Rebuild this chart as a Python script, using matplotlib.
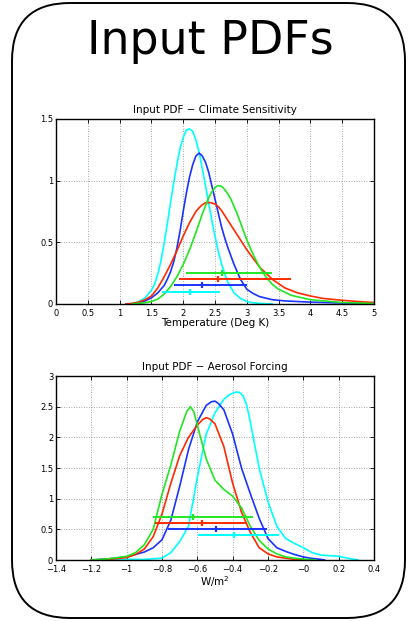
import numpy as np
import matplotlib
matplotlib.use("Agg")
import matplotlib.pyplot as plt
from matplotlib.patches import FancyBboxPatch
from matplotlib.ticker import FuncFormatter

# Climate sensitivity PDFs (x in Deg K, y density)
cs_cyan_x = [1.1, 1.2, 1.3, 1.4, 1.5, 1.55, 1.6, 1.65, 1.7, 1.75, 1.8, 1.85, 1.9, 1.95, 2.0, 2.05, 2.1,
             2.15, 2.2, 2.25, 2.3, 2.35, 2.4, 2.45, 2.5, 2.55, 2.6, 2.65, 2.7, 2.8, 2.9, 3.0, 3.1, 3.2, 3.4]
cs_cyan_y = [0.0, 0.005, 0.02, 0.05, 0.11, 0.16, 0.24, 0.35, 0.49, 0.65, 0.82, 0.98, 1.13, 1.26, 1.35, 1.41, 1.42,
             1.40, 1.33, 1.23, 1.10, 0.96, 0.82, 0.68, 0.55, 0.43, 0.33, 0.25, 0.18, 0.09, 0.045, 0.02, 0.01, 0.005, 0.0]

cs_blue_x = [1.2, 1.3, 1.4, 1.5, 1.6, 1.7, 1.75, 1.8, 1.85, 1.9, 1.95, 2.0, 2.05, 2.1, 2.15, 2.2, 2.25, 2.3,
             2.35, 2.4, 2.45, 2.5, 2.55, 2.6, 2.65, 2.7, 2.8, 2.9, 3.0, 3.1, 3.2, 3.4, 3.6, 4.0, 4.5, 5.0]
cs_blue_y = [0.0, 0.01, 0.025, 0.05, 0.09, 0.15, 0.2, 0.26, 0.34, 0.45, 0.59, 0.75, 0.9, 1.03, 1.13, 1.2, 1.224, 1.2,
             1.15, 1.07, 0.96, 0.85, 0.74, 0.63, 0.54, 0.46, 0.32, 0.2, 0.12, 0.085, 0.06, 0.035, 0.025, 0.015, 0.008, 0.004]

cs_red_x = [1.1, 1.2, 1.3, 1.4, 1.5, 1.6, 1.7, 1.8, 1.9, 2.0, 2.1, 2.2, 2.25, 2.3, 2.35, 2.4, 2.45, 2.5, 2.55,
            2.6, 2.65, 2.7, 2.8, 2.9, 3.0, 3.1, 3.2, 3.4, 3.6, 3.8, 4.0, 4.2, 4.5, 4.8, 5.0]
cs_red_y = [0.0, 0.005, 0.015, 0.035, 0.065, 0.13, 0.22, 0.32, 0.43, 0.55, 0.66, 0.75, 0.78, 0.805, 0.82, 0.823, 0.82, 0.81, 0.79,
            0.76, 0.72, 0.68, 0.6, 0.52, 0.44, 0.37, 0.3, 0.2, 0.13, 0.09, 0.065, 0.045, 0.03, 0.018, 0.012]

cs_green_x = [1.2, 1.4, 1.5, 1.6, 1.7, 1.8, 1.9, 2.0, 2.1, 2.2, 2.3, 2.4, 2.45, 2.5, 2.55, 2.6, 2.65, 2.7, 2.75,
              2.8, 2.85, 2.9, 2.95, 3.0, 3.1, 3.2, 3.3, 3.4, 3.5, 3.7, 4.0, 4.5, 5.0]
cs_green_y = [0.0, 0.01, 0.02, 0.04, 0.08, 0.14, 0.22, 0.32, 0.44, 0.58, 0.73, 0.86, 0.91, 0.945, 0.96, 0.955, 0.93, 0.895, 0.85,
              0.79, 0.73, 0.66, 0.59, 0.52, 0.4, 0.3, 0.22, 0.16, 0.12, 0.07, 0.035, 0.012, 0.004]

# range bars: level, low, mean, high  (order green, red, blue, cyan)
cs_bar_y = [0.25, 0.2, 0.15, 0.1]
cs_bar_lo = [2.04, 1.93, 1.86, 1.66]
cs_bar_mid = [2.61, 2.54, 2.30, 2.11]
cs_bar_hi = [3.39, 3.69, 3.00, 2.58]

# Aerosol forcing PDFs (x in W/m2)
af_cyan_x = [-1.2, -1.0, -0.9, -0.8, -0.75, -0.7, -0.65, -0.6, -0.55, -0.5, -0.45, -0.42, -0.4, -0.38, -0.36,
             -0.34, -0.32, -0.3, -0.25, -0.2, -0.15, -0.1, -0.05, 0.0, 0.05, 0.1, 0.15, 0.2, 0.25, 0.31]
af_cyan_y = [0.0, 0.01, 0.01, 0.03, 0.12, 0.3, 0.55, 1.35, 2.05, 2.4, 2.62, 2.69, 2.72, 2.74, 2.73,
             2.67, 2.52, 2.25, 1.5, 0.95, 0.55, 0.35, 0.27, 0.2, 0.12, 0.08, 0.07, 0.06, 0.03, 0.0]

af_blue_x = [-1.2, -1.1, -1.0, -0.9, -0.85, -0.8, -0.75, -0.7, -0.65, -0.6, -0.55, -0.52, -0.5, -0.48, -0.45,
             -0.4, -0.35, -0.3, -0.25, -0.2, -0.15, -0.1, -0.05, 0.0, 0.05, 0.1, 0.12]
af_blue_y = [0.0, 0.02, 0.05, 0.13, 0.2, 0.33, 0.65, 1.2, 1.8, 2.25, 2.52, 2.58, 2.59, 2.55, 2.45,
             2.05, 1.5, 1.08, 0.68, 0.35, 0.2, 0.14, 0.09, 0.05, 0.025, 0.01, 0.0]

af_red_x = [-1.2, -1.1, -1.0, -0.95, -0.9, -0.85, -0.8, -0.75, -0.7, -0.65, -0.6, -0.57, -0.55, -0.53, -0.5,
            -0.45, -0.4, -0.35, -0.3, -0.25, -0.2, -0.15, -0.1, -0.05, 0.0]
af_red_y = [0.0, 0.01, 0.04, 0.09, 0.18, 0.38, 0.75, 1.25, 1.7, 2.0, 2.2, 2.29, 2.32, 2.3, 2.22,
            1.85, 1.25, 0.78, 0.45, 0.2, 0.1, 0.05, 0.03, 0.01, 0.0]

af_green_x = [-1.2, -1.1, -1.0, -0.95, -0.9, -0.85, -0.8, -0.75, -0.7, -0.66, -0.64, -0.62, -0.6, -0.55, -0.5,
              -0.45, -0.4, -0.35, -0.3, -0.25, -0.2, -0.15, -0.1, -0.05, 0.0, 0.07]
af_green_y = [0.0, 0.02, 0.06, 0.12, 0.25, 0.5, 1.07, 1.55, 2.1, 2.42, 2.5, 2.42, 2.2, 1.65, 1.3,
              1.15, 1.04, 0.85, 0.55, 0.32, 0.18, 0.1, 0.05, 0.03, 0.015, 0.0]

af_bar_y = [0.7, 0.6, 0.505, 0.4]
af_bar_lo = [-0.853, -0.838, -0.765, -0.599]
af_bar_mid = [-0.624, -0.571, -0.495, -0.39]
af_bar_hi = [-0.284, -0.322, -0.203, -0.137]

colors = ["#22e622", "#ff2a00", "#1a33ff", "#00ffff"]  # green, red, blue, cyan


def fmt(v, pos):
    s = "%g" % round(v, 2)
    return s.replace("-", "\u2212")


def style(ax, xlim, ylim, xticks, yticks):
    ax.set_xlim(xlim)
    ax.set_ylim(ylim)
    ax.set_xticks(xticks)
    ax.set_yticks(yticks)
    ax.xaxis.set_major_formatter(FuncFormatter(fmt))
    ax.yaxis.set_major_formatter(FuncFormatter(fmt))
    ax.tick_params(direction="in", length=3, width=0.6, labelsize=6,
                   top=True, right=True, pad=2)
    ax.tick_params(axis="x", pad=3.5)
    ax.grid(True, linestyle=(0, (1, 2)), color="#888888", linewidth=0.6)
    for s in ax.spines.values():
        s.set_linewidth(1.0)


fig = plt.figure(figsize=(4.12, 6.21), dpi=100)

# rounded frame and big heading
bg = fig.add_axes([0, 0, 1, 1])
bg.set_xlim(0, 412)
bg.set_ylim(621, 0)
bg.axis("off")
bg.add_patch(FancyBboxPatch((12, 3), 393, 615, boxstyle="round,pad=0,rounding_size=58",
                            facecolor="white", edgecolor="black", linewidth=1.4))
bg.text(210, 42, "Input PDFs", ha="center", va="center", fontsize=33, color="black")

# Climate sensitivity
ax1 = fig.add_axes([56 / 412, 1 - 304 / 621, 318 / 412, 185 / 621])
for xs, ys, c in [(cs_cyan_x, cs_cyan_y, colors[3]), (cs_blue_x, cs_blue_y, colors[2]),
                  (cs_red_x, cs_red_y, colors[1]), (cs_green_x, cs_green_y, colors[0])]:
    ax1.plot(xs, ys, color=c, linewidth=1.2)
for i, c in enumerate(colors):
    ax1.hlines(cs_bar_y[i], cs_bar_lo[i], cs_bar_hi[i], color=c, linewidth=1.4)
    ax1.plot(cs_bar_mid[i], cs_bar_y[i], marker="|", color=c, markersize=4, mew=1.6)
style(ax1, (0, 5), (0, 1.5), np.arange(0, 5.01, 0.5), [0, 0.5, 1, 1.5])
ax1.set_title("Input PDF \u2212 Climate Sensitivity", fontsize=7.5, pad=4)
ax1.set_xlabel("Temperature (Deg K)", fontsize=7.5, labelpad=0)

# Aerosol forcing
ax2 = fig.add_axes([56 / 412, 1 - 560 / 621, 318 / 412, 184 / 621])
for xs, ys, c in [(af_cyan_x, af_cyan_y, colors[3]), (af_blue_x, af_blue_y, colors[2]),
                  (af_red_x, af_red_y, colors[1]), (af_green_x, af_green_y, colors[0])]:
    ax2.plot(xs, ys, color=c, linewidth=1.2)
for i, c in enumerate(colors):
    ax2.hlines(af_bar_y[i], af_bar_lo[i], af_bar_hi[i], color=c, linewidth=1.4)
    ax2.plot(af_bar_mid[i], af_bar_y[i], marker="|", color=c, markersize=4, mew=1.6)
style(ax2, (-1.4, 0.4), (0, 3), np.arange(-1.4, 0.41, 0.2), np.arange(0, 3.01, 0.5))
ax2.set_title("Input PDF \u2212 Aerosol Forcing", fontsize=7.5, pad=4)
ax2.set_xlabel("W/m$^2$", fontsize=7.5, labelpad=0)

fig.savefig("out.png", dpi=100)
